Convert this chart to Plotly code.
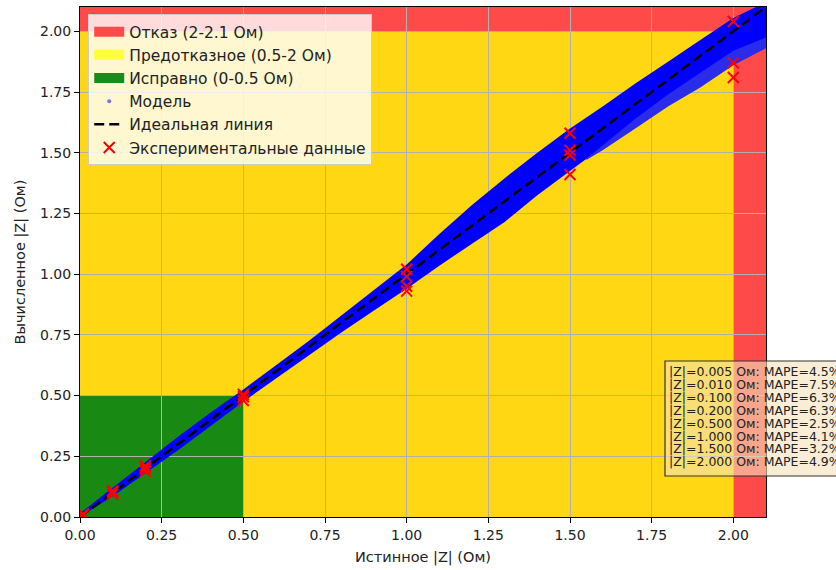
import plotly.graph_objects as go

# ---------------- data ----------------
zone_names = ["Отказ (2-2.1 Ом)", "Предотказное (0.5-2 Ом)", "Исправно (0-0.5 Ом)"]
zone_legend_colors = ["#ff4a4a", "#ffff3a", "#1a8a1a"]
yellow_zone = [0.0, 2.1]          # whole area
green_zone = [0.0, 0.5]           # x and y limits
red_zone = [2.0, 2.1]             # x band and y band

band_x = [0, 0.1, 0.2, 0.3, 0.4, 0.5, 0.6, 0.7, 0.8, 0.9, 1.0, 1.1, 1.2, 1.3, 1.4, 1.5, 1.6, 1.7, 1.8, 1.9, 2.0, 2.1]
band_upper = [0.015, 0.12, 0.225, 0.33, 0.43, 0.525, 0.625, 0.725, 0.83, 0.935, 1.04, 1.165, 1.285, 1.395, 1.50, 1.60, 1.69, 1.785, 1.875, 1.965, 2.055, 2.12]
band_lower = [0.0, 0.085, 0.18, 0.275, 0.375, 0.475, 0.57, 0.665, 0.76, 0.85, 0.94, 1.035, 1.125, 1.215, 1.325, 1.425, 1.525, 1.635, 1.735, 1.825, 1.915, 1.97]
light_x = [1.55, 1.6, 1.7, 1.8, 1.9, 2.0, 2.1]
light_upper = [1.475, 1.53, 1.64, 1.74, 1.83, 1.92, 1.975]
light_lower = [1.47, 1.51, 1.60, 1.69, 1.77, 1.86, 1.93]

ideal_x = [0.0, 2.1]
ideal_y = [0.0, 2.1]

exp_x = [0.005, 0.005, 0.005, 0.01, 0.01, 0.01, 0.1, 0.1, 0.1, 0.2, 0.2, 0.2,
         0.5, 0.5, 0.5, 1.0, 1.0, 1.0, 1.0, 1.5, 1.5, 1.5, 1.5, 2.0, 2.0, 2.0]
exp_y = [0.0048, 0.0052, 0.005, 0.0093, 0.0105, 0.011, 0.094, 0.103, 0.108, 0.188, 0.2, 0.21,
         0.48, 0.495, 0.505, 1.02, 0.99, 0.95, 0.93, 1.58, 1.51, 1.49, 1.41, 2.04, 1.87, 1.81]

mape_z = ["0.005", "0.010", "0.100", "0.200", "0.500", "1.000", "1.500", "2.000"]
mape_vals = [4.5, 7.5, 6.3, 6.3, 2.5, 4.1, 3.2, 4.9]

x_ticks = [0, 0.25, 0.5, 0.75, 1.0, 1.25, 1.5, 1.75, 2.0]
y_ticks = [0, 0.25, 0.5, 0.75, 1.0, 1.25, 1.5, 1.75, 2.0]

FONT = "DejaVu Sans"
fig = go.Figure()

# zones as shapes below the grid
fig.add_shape(type="rect", xref="x", yref="y", x0=yellow_zone[0], x1=yellow_zone[1],
              y0=yellow_zone[0], y1=yellow_zone[1], fillcolor="#ffd712", line_width=0, layer="below")
fig.add_shape(type="rect", xref="x", yref="y", x0=green_zone[0], x1=green_zone[1],
              y0=green_zone[0], y1=green_zone[1], fillcolor="#188a14", line_width=0, layer="below")
fig.add_shape(type="rect", xref="x", yref="y", x0=red_zone[0], x1=red_zone[1],
              y0=yellow_zone[0], y1=yellow_zone[1], fillcolor="#ff4a4a", line_width=0, layer="below")
fig.add_shape(type="rect", xref="x", yref="y", x0=yellow_zone[0], x1=yellow_zone[1],
              y0=red_zone[0], y1=red_zone[1], fillcolor="#ff4a4a", line_width=0, layer="below")

# legend entries for zones (thick line icons look like patches)
for i, (nm, col) in enumerate(zip(zone_names, zone_legend_colors)):
    fig.add_trace(go.Scatter(x=[None], y=[None], mode="lines", line=dict(color=col, width=10),
                             name=nm, legendgroup=f"g{i}", legendrank=i + 1))

# model band
fig.add_trace(go.Scatter(x=band_x + band_x[::-1], y=band_upper + band_lower[::-1],
                         mode="none", fill="toself", fillcolor="#0000ff", showlegend=False,
                         hoverinfo="skip"))
fig.add_trace(go.Scatter(x=light_x + light_x[::-1], y=light_upper + light_lower[::-1],
                         mode="none", fill="toself", fillcolor="#2b2bea", showlegend=False,
                         hoverinfo="skip"))
fig.add_trace(go.Scatter(x=[None], y=[None], mode="markers", name="Модель",
                         marker=dict(color="rgba(60,60,255,0.7)", size=4),
                         legendgroup="g3", legendrank=4))

# ideal line
fig.add_trace(go.Scatter(x=ideal_x, y=ideal_y, mode="lines", name="Идеальная линия",
                         line=dict(color="black", width=2.5, dash="10px,5px"),
                         legendgroup="g4", legendrank=5))

# experimental
fig.add_trace(go.Scatter(x=exp_x, y=exp_y, mode="markers", name="Экспериментальные данные",
                         marker=dict(symbol="x-thin", size=11, line=dict(color="#ff0000", width=2),
                                     color="#ff0000"),
                         legendgroup="g5", legendrank=6))

# MAPE box
box_top_px, line_h = 361, 12.9
plot_top, plot_h = 7, 510
def py2paper(py):
    return (plot_top + plot_h - py) / plot_h

fig.add_shape(type="rect", xref="paper", yref="paper", x0=(665 - 80) / 686, x1=(860 - 80) / 686,
              y0=py2paper(476), y1=py2paper(box_top_px),
              fillcolor="rgba(245,225,185,0.6)", line=dict(color="#333333", width=1.2), layer="above")
for i, (z, m) in enumerate(zip(mape_z, mape_vals)):
    fig.add_annotation(xref="paper", yref="paper", x=(667 - 80) / 686,
                       y=py2paper(371.5 + i * line_h), xanchor="left", yanchor="middle",
                       text=f"|Z|={z} Ом: MAPE={m:.1f}%", showarrow=False,
                       font=dict(family=FONT, size=12.5, color="#222222"))

axis_common = dict(showgrid=True, gridcolor="#b0b0b0", gridwidth=1, zeroline=False,
                   showline=True, mirror=True, linecolor="black", linewidth=1,
                   ticks="outside", ticklen=5, tickcolor="black", tickformat=".2f",
                   tickfont=dict(family=FONT, size=14, color="#222222"))

fig.update_layout(
    width=836, height=570,
    margin=dict(l=80, r=70, t=7, b=53),
    paper_bgcolor="white", plot_bgcolor="white",
    font=dict(family=FONT, color="#222222"),
    xaxis=dict(range=[0, 2.1], tickvals=x_ticks,
               title=dict(text="Истинное |Z| (Ом)", font=dict(family=FONT, size=14.5), standoff=10),
               **axis_common),
    yaxis=dict(range=[0, 2.1], tickvals=y_ticks,
               title=dict(text="Вычисленное |Z| (Ом)", font=dict(family=FONT, size=14.5), standoff=10),
               **axis_common),
    legend=dict(x=0.012, y=0.986, xanchor="left", yanchor="top",
                bgcolor="rgba(255,255,255,0.8)", bordercolor="#cccccc", borderwidth=1,
                font=dict(family=FONT, size=15.5, color="#222222"), tracegroupgap=3,
                traceorder="normal"),
    showlegend=True,
)

fig.write_html("out.html")
